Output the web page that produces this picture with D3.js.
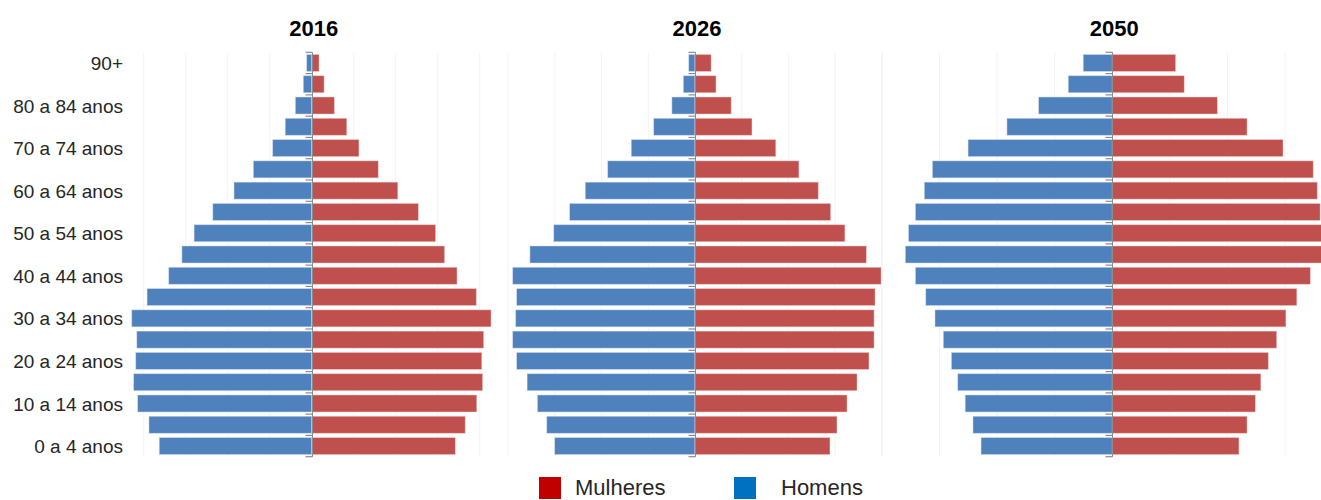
<!DOCTYPE html>
<html lang="pt">
<head>
<meta charset="utf-8"/>
<title>Pirâmides etárias 2016, 2026, 2050</title>
<style>
  * { margin: 0; padding: 0; }
  body { background: #fff; }
  svg { display: block; }
  text { font-family: "Liberation Sans", Arial, sans-serif; fill: #262626; }
  text.title { font-size: 22px; font-weight: 700; fill: #000; }
  .age-axis text { font-size: 19px; }
  text.legend { font-size: 22px; }
</style>
<script src="https://d3js.org/d3.v7.min.js"></script>
</head>
<body>
<svg id="chart" width="1321" height="500"></svg>
<script>
// age groups, top of the pyramid first
const ages = ["90+", "85 a 89 anos", "80 a 84 anos", "75 a 79 anos", "70 a 74 anos",
  "65 a 69 anos", "60 a 64 anos", "55 a 59 anos", "50 a 54 anos", "45 a 49 anos",
  "40 a 44 anos", "35 a 39 anos", "30 a 34 anos", "25 a 29 anos", "20 a 24 anos",
  "15 a 19 anos", "10 a 14 anos", "5 a 9 anos", "0 a 4 anos"];

const years = ["2016", "2026", "2050"];

// population in millions, same order as ages
const men2016   = [0.24, 0.40, 0.78, 1.26, 1.86, 2.78, 3.70, 4.71, 5.60, 6.18, 6.81, 7.84, 8.57, 8.33, 8.38, 8.48, 8.29, 7.75, 7.26];
const women2016 = [0.35, 0.59, 1.08, 1.67, 2.25, 3.17, 4.10, 5.08, 5.90, 6.33, 6.92, 7.84, 8.54, 8.19, 8.10, 8.14, 7.86, 7.31, 6.84];
const men2026   = [0.27, 0.50, 0.99, 1.77, 2.73, 3.74, 4.70, 5.37, 6.05, 7.07, 7.81, 7.64, 7.68, 7.81, 7.64, 7.19, 6.75, 6.35, 6.01];
const women2026 = [0.69, 0.90, 1.55, 2.44, 3.46, 4.45, 5.28, 5.81, 6.42, 7.34, 7.97, 7.71, 7.67, 7.67, 7.45, 6.94, 6.51, 6.08, 5.78];
const men2050   = [1.01, 1.53, 2.56, 3.66, 5.01, 6.25, 6.53, 6.84, 7.08, 7.19, 6.84, 6.48, 6.16, 5.87, 5.59, 5.37, 5.11, 4.84, 4.56];
const women2050 = [2.20, 2.50, 3.65, 4.68, 5.93, 6.98, 7.12, 7.22, 7.30, 7.30, 6.88, 6.41, 6.03, 5.71, 5.42, 5.16, 4.97, 4.68, 4.40];

const gridTicks = [-8, -6, -4, -2, 2, 4, 6, 8];
const legendLabels = ["Mulheres", "Homens"];

// each panel: where its plot area sits (Excel gave every panel its own width)
const panels = [
  { year: years[0], men: men2016, women: women2016, left: 143.7, right: 479.7 },
  { year: years[1], men: men2026, women: women2026, left: 508.2, right: 881.8 },
  { year: years[2], men: men2050, women: women2050, left: 882.0, right: 1342.6 }
];

const plotTop = 52.3, plotBottom = 456.7;
const svg = d3.select("#chart");

const y = d3.scaleBand()
  .domain(ages)
  .range([plotTop, plotBottom])
  .paddingInner(0.2)
  .paddingOuter(0.1);

panels.forEach(function(p, pi) {
  const x = d3.scaleLinear().domain([-8, 8]).range([p.left, p.right]);
  const g = svg.append("g").attr("class", "panel");

  // faint vertical gridlines
  g.selectAll("line.grid")
    .data(gridTicks)
    .enter().append("line")
    .attr("class", "grid")
    .attr("x1", d => x(d)).attr("x2", d => x(d))
    .attr("y1", plotTop).attr("y2", plotBottom)
    .attr("stroke", "#f3f3f3")
    .attr("stroke-width", 1);

  const rows = ages.map((a, i) => ({ age: a, men: p.men[i], women: p.women[i] }));

  // homens to the left
  g.selectAll("rect.men")
    .data(rows)
    .enter().append("rect")
    .attr("class", "men")
    .attr("x", d => x(-d.men))
    .attr("y", d => y(d.age))
    .attr("width", d => x(0) - x(-d.men))
    .attr("height", y.bandwidth())
    .attr("fill", "#4f81bd")
    .attr("stroke", "#dbe4f0")
    .attr("stroke-opacity", 0.6)
    .attr("stroke-width", 0.8);

  // mulheres to the right
  g.selectAll("rect.women")
    .data(rows)
    .enter().append("rect")
    .attr("class", "women")
    .attr("x", x(0))
    .attr("y", d => y(d.age))
    .attr("width", d => x(d.women) - x(0))
    .attr("height", y.bandwidth())
    .attr("fill", "#c0504d")
    .attr("stroke", "#f0d6d5")
    .attr("stroke-opacity", 0.6)
    .attr("stroke-width", 0.8);

  // central axis with small ticks between the categories
  const bounds = d3.range(ages.length + 1).map(i => plotTop + y.step() * i);
  const cx = Math.round(x(0)) + 0.5;
  g.append("line")
    .attr("x1", cx).attr("x2", cx)
    .attr("y1", plotTop).attr("y2", plotBottom)
    .attr("stroke", "#8c8c8c")
    .attr("stroke-width", 1);
  g.selectAll("line.tick")
    .data(bounds)
    .enter().append("line")
    .attr("class", "tick")
    .attr("x1", cx - 7).attr("x2", cx)
    .attr("y1", d => d).attr("y2", d => d)
    .attr("stroke", "#8c8c8c")
    .attr("stroke-width", 1.2);

  g.append("text")
    .attr("class", "title")
    .attr("x", x(0) + 2)
    .attr("y", 36)
    .attr("text-anchor", "middle")
    .text(p.year);

  if (pi === 0) {
    // age labels, every other group
    const ageAxis = d3.axisLeft(y)
      .tickValues(ages.filter((a, i) => i % 2 === 0))
      .tickSize(0)
      .tickPadding(0);
    svg.append("g")
      .attr("class", "age-axis")
      .attr("transform", "translate(123,1)")
      .call(ageAxis)
      .call(s => s.select(".domain").remove())
      .selectAll("text")
      .attr("fill", "#262626");
  }
});

// legend
const legendColors = ["#c00000", "#0070c0"];
const legendX = d3.scalePoint().domain(legendLabels).range([539, 734]);
const lg = svg.append("g").selectAll("g")
  .data(legendLabels)
  .enter().append("g")
  .attr("transform", d => `translate(${legendX(d)},477)`);
lg.append("rect")
  .attr("width", 22).attr("height", 22)
  .attr("fill", (d, i) => legendColors[i]);
lg.append("text")
  .attr("class", "legend")
  .attr("x", (d, i) => i === 0 ? 36 : 47)
  .attr("y", 18)
  .text(d => d);
</script>
</body>
</html>
